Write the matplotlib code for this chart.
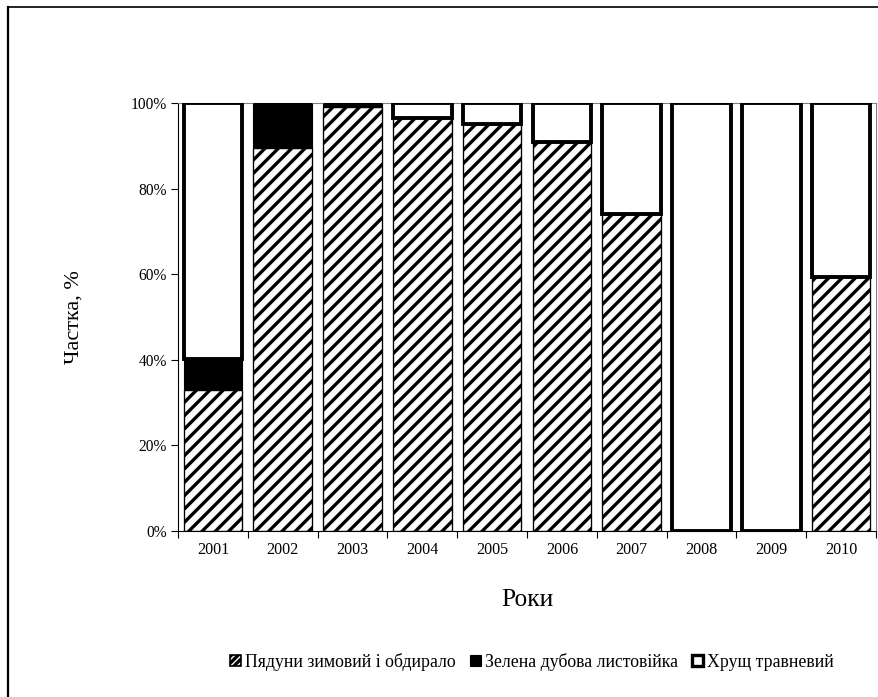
import matplotlib
matplotlib.use("Agg")
import matplotlib.pyplot as plt
import numpy as np
from matplotlib.lines import Line2D
from matplotlib.patches import Patch

plt.rcParams['font.family'] = ['Liberation Serif', 'DejaVu Serif']
plt.rcParams['hatch.linewidth'] = 3.0

years = ['2001', '2002', '2003', '2004', '2005', '2006', '2007', '2008', '2009', '2010']
pyduny = [33, 89.5, 99, 96.5, 95, 91, 74, 0, 0, 59.3]
zelena = [7.2, 10.5, 1, 0, 0, 0, 0, 0, 0, 0]
khrushch = [59.8, 0, 0, 3.5, 5, 9, 26, 100, 100, 40.7]
labels = ['Пядуни зимовий і обдирало', 'Зелена дубова листовійка', 'Хрущ травневий']
yticks = [0, 20, 40, 60, 80, 100]

dpi = 80
fig = plt.figure(figsize=(878 / dpi, 697 / dpi), dpi=dpi)
ax = fig.add_axes([178 / 878, 1 - 531 / 697, (876 - 178) / 878, (531 - 103) / 697])

x = np.arange(len(years))
w = 0.84
p = np.array(pyduny)
z = np.array(zelena)
k = np.array(khrushch)

ax.bar(x, p, w, color='white', edgecolor='black', hatch='//', linewidth=1.2, zorder=2)
ax.bar(x, z, w, bottom=p, color='black', edgecolor='black', linewidth=1.0, zorder=2)
for xi, kv, b in zip(x, k, p + z):
    if kv > 0:
        ax.bar(xi, kv, w, bottom=b, color='white', edgecolor='black', linewidth=3.5, zorder=3)
    else:
        ax.bar(xi, 0.0, w, bottom=b, color='white', edgecolor='black', linewidth=3.0, zorder=3)

ax.set_xlim(-0.5, len(years) - 0.5)
ax.set_ylim(0, 100)
ax.set_yticks(yticks)
ax.set_yticklabels([f'{v}%' for v in yticks], fontsize=14)
ax.set_xticks(x)
ax.set_xticklabels(years, fontsize=14.5)
ax.tick_params(axis='x', which='major', length=0, pad=10)
ax.set_xticks(np.arange(-0.5, len(years), 1.0), minor=True)
ax.tick_params(axis='x', which='minor', length=6, width=1, direction='out')
ax.tick_params(axis='y', length=6, width=1, direction='out', pad=4)

for s in ['left', 'bottom']:
    ax.spines[s].set_color('black')
    ax.spines[s].set_linewidth(1.0)
for s in ['top', 'right']:
    ax.spines[s].set_color('#808080')
    ax.spines[s].set_linewidth(1.0)

ax.set_xlabel('Роки', fontsize=23, labelpad=28)
ax.set_ylabel('Частка, %', fontsize=20, labelpad=42)

handles = [
    Patch(facecolor='white', edgecolor='black', hatch='////', linewidth=1.5),
    Patch(facecolor='black', edgecolor='black', linewidth=1.0),
    Patch(facecolor='white', edgecolor='black', linewidth=3.0),
]
fig.legend(handles, labels, loc='center', bbox_to_anchor=(532 / 878, 1 - 662 / 697),
           ncol=3, frameon=False, fontsize=16, handlelength=0.6, handleheight=0.6,
           handletextpad=0.25, columnspacing=0.8)

fig.add_artist(Line2D([8 / 878, 8 / 878], [0, 1 - 7 / 697], transform=fig.transFigure,
                      color='black', linewidth=2))
fig.add_artist(Line2D([8 / 878, 1], [1 - 7 / 697, 1 - 7 / 697], transform=fig.transFigure,
                      color='black', linewidth=1.5))

fig.savefig('out.png', dpi=dpi)
